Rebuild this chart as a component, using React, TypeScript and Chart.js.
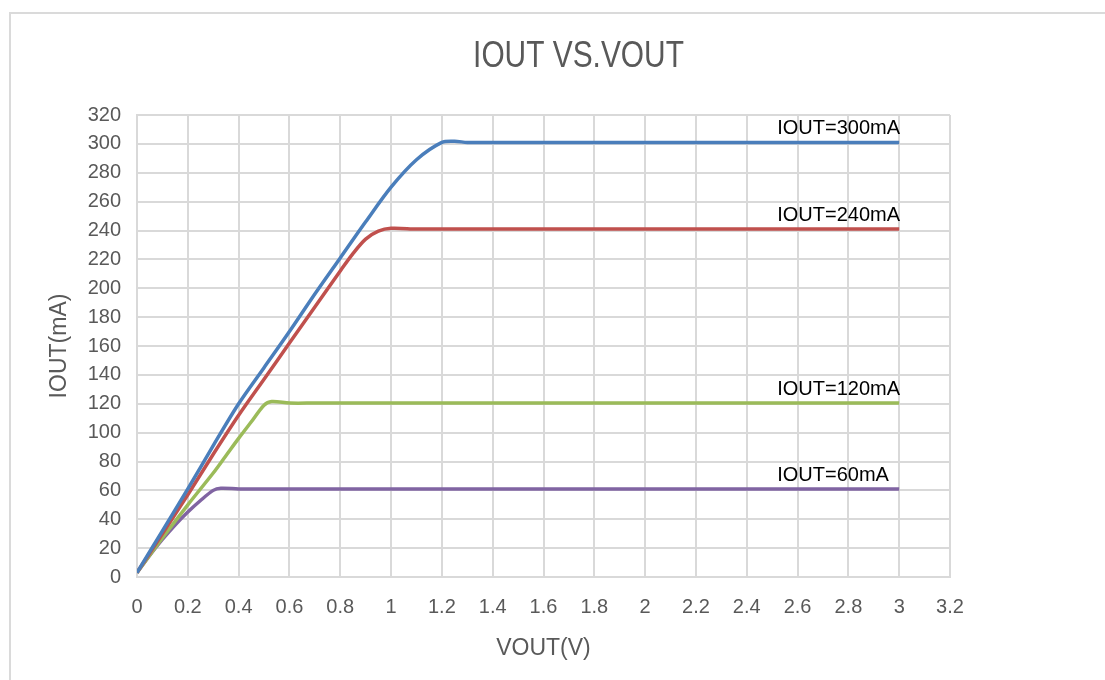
import React, { useEffect, useRef } from "react";
import { Chart, registerables } from "chart.js";

Chart.register(...registerables);

const chartTitle = "IOUT VS.VOUT";
const xAxisTitle = "VOUT(V)";
const yAxisTitle = "IOUT(mA)";

const xTicks = [0, 0.2, 0.4, 0.6, 0.8, 1, 1.2, 1.4, 1.6, 1.8, 2, 2.2, 2.4, 2.6, 2.8, 3, 3.2];
const yTicks = [0, 20, 40, 60, 80, 100, 120, 140, 160, 180, 200, 220, 240, 260, 280, 300, 320];

const seriesNames = ["IOUT=300mA", "IOUT=240mA", "IOUT=120mA", "IOUT=60mA"];
const seriesColors = ["#4a7ebb", "#c0504d", "#9bbb59", "#8064a2"];

const v300 = [0, 0.1, 0.2, 0.3, 0.4, 0.5, 0.6, 0.7, 0.8, 0.9, 1.0, 1.1, 1.2, 1.25, 1.3, 1.4, 1.6, 1.8, 2.0, 2.2, 2.4, 2.6, 2.8, 3.0];
const i300 = [3, 32, 61, 91, 120, 145, 170, 196, 221, 246, 270, 289, 301, 301.8, 301, 301, 301, 301, 301, 301, 301, 301, 301, 301];

const v240 = [0, 0.1, 0.2, 0.3, 0.4, 0.5, 0.6, 0.7, 0.8, 0.85, 0.9, 0.95, 1.0, 1.1, 1.2, 1.4, 1.6, 1.8, 2.0, 2.2, 2.4, 2.6, 2.8, 3.0];
const i240 = [3, 30, 57, 85, 112, 137, 162, 187, 212, 224, 234, 239.5, 241.5, 241, 241, 241, 241, 241, 241, 241, 241, 241, 241, 241];

const v120 = [0, 0.1, 0.2, 0.3, 0.35, 0.4, 0.45, 0.5, 0.53, 0.6, 0.7, 0.8, 1.0, 1.2, 1.4, 1.6, 1.8, 2.0, 2.2, 2.4, 2.6, 2.8, 3.0];
const i120 = [3, 27, 50, 72, 84, 96, 107.5, 119, 121.5, 120.5, 120.5, 120.5, 120.5, 120.5, 120.5, 120.5, 120.5, 120.5, 120.5, 120.5, 120.5, 120.5, 120.5];

const v60 = [0, 0.05, 0.1, 0.15, 0.2, 0.25, 0.3, 0.33, 0.4, 0.5, 0.6, 0.8, 1.0, 1.2, 1.4, 1.6, 1.8, 2.0, 2.2, 2.4, 2.6, 2.8, 3.0];
const i60 = [3, 15, 26, 36, 45, 53, 60, 61.5, 61, 61, 61, 61, 61, 61, 61, 61, 61, 61, 61, 61, 61, 61, 61];

const seriesV = [v300, v240, v120, v60];
const seriesI = [i300, i240, i120, i60];
const labelAtV = 2.52;

const gridColor = "#d9d9d9";
const textGray = "#595959";

const titlePlugin = {
  id: "customTitle",
  afterDraw(chart: any) {
    const { ctx, chartArea } = chart;
    ctx.save();
    ctx.fillStyle = textGray;
    ctx.font = '36px "Liberation Sans", Arial, sans-serif';
    ctx.textAlign = "center";
    ctx.textBaseline = "middle";
    ctx.translate((chartArea.left + chartArea.right) / 2 + 35, 49);
    ctx.scale(0.83, 1);
    ctx.fillText(chartTitle, 0, 0);
    ctx.restore();
  },
};

const seriesLabelPlugin = {
  id: "seriesLabels",
  afterDatasetsDraw(chart: any) {
    const { ctx, scales } = chart;
    ctx.save();
    ctx.fillStyle = "#000";
    ctx.font = '20px "Liberation Sans", Arial, sans-serif';
    ctx.textAlign = "left";
    ctx.textBaseline = "alphabetic";
    seriesNames.forEach((name, i) => {
      const vals = seriesI[i];
      const x = scales.x.getPixelForValue(labelAtV);
      const y = scales.y.getPixelForValue(vals[vals.length - 1]) - 8;
      ctx.fillText(name, x, y);
    });
    ctx.restore();
  },
};

export default function App() {
  const canvasRef = useRef<HTMLCanvasElement | null>(null);

  useEffect(() => {
    if (!canvasRef.current) return;
    const datasets = seriesNames.map((name, i) => ({
      label: name,
      data: seriesV[i].map((v, k) => ({ x: v, y: seriesI[i][k] })),
      borderColor: seriesColors[i],
      backgroundColor: seriesColors[i],
      borderWidth: 3.5,
      pointRadius: 0,
      tension: 0.3,
      fill: false,
    }));
    const chart = new Chart(canvasRef.current, {
      type: "line",
      data: { datasets },
      options: {
        animation: false,
        responsive: false,
        layout: { padding: { left: 38, right: 147, top: 107, bottom: 0 } },
        plugins: {
          legend: { display: false },
          title: { display: false },
          tooltip: { enabled: false },
        },
        scales: {
          x: {
            type: "linear",
            min: 0,
            max: 3.2,
            afterBuildTicks: (scale: any) => {
              scale.ticks = xTicks.map((v) => ({ value: v }));
            },
            afterFit: (scale: any) => {
              scale.height = 95;
            },
            grid: { color: gridColor, lineWidth: 2, drawTicks: false },
            border: { color: gridColor, width: 2 },
            ticks: {
              padding: 18,
              color: textGray,
              font: { family: '"Liberation Sans", Arial, sans-serif', size: 20 },
              autoSkip: false,
              maxRotation: 0,
              callback: (v: any) => String(v),
            },
            title: {
              display: true,
              text: xAxisTitle,
              color: textGray,
              font: { family: '"Liberation Sans", Arial, sans-serif', size: 23 },
              padding: { top: 0, bottom: 10 },
            },
          },
          y: {
            type: "linear",
            min: 0,
            max: 320,
            afterBuildTicks: (scale: any) => {
              scale.ticks = yTicks.map((v) => ({ value: v }));
            },
            afterFit: (scale: any) => {
              scale.width = 91;
            },
            grid: { color: gridColor, lineWidth: 2, drawTicks: false },
            border: { color: gridColor, width: 2 },
            ticks: {
              padding: 16,
              color: textGray,
              font: { family: '"Liberation Sans", Arial, sans-serif', size: 20 },
              autoSkip: false,
              callback: (v: any) => String(v),
            },
            title: {
              display: true,
              text: yAxisTitle,
              color: textGray,
              font: { family: '"Liberation Sans", Arial, sans-serif', size: 23 },
              padding: { top: 0, bottom: 0 },
            },
          },
        },
      },
      plugins: [titlePlugin, seriesLabelPlugin],
    });
    return () => chart.destroy();
  }, []);

  return (
    <div style={{ position: "relative" }}>
      <div
        style={{
          position: "fixed",
          left: 9,
          top: 12,
          right: 0,
          bottom: 0,
          borderTop: "2px solid #dadada",
          borderLeft: "2px solid #dadada",
          pointerEvents: "none",
        }}
      />
      <canvas ref={canvasRef} width={1089} height={664} style={{ display: "block" }} />
    </div>
  );
}
